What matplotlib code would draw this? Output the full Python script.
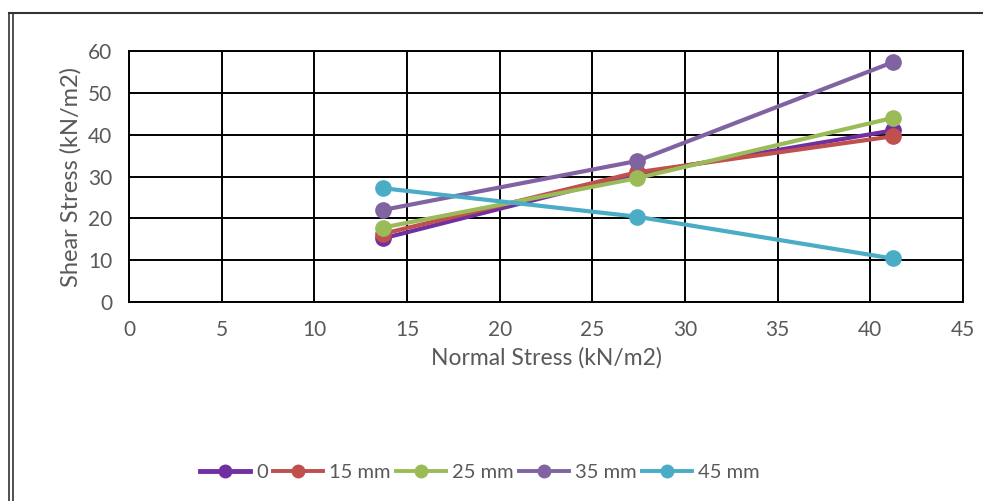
import matplotlib.pyplot as plt
from matplotlib.lines import Line2D

normal_stress = [13.7, 27.4, 41.2]
labels = ['0', '15 mm', '25 mm', '35 mm', '45 mm']
shear_0 = [15.2, 30.6, 41.0]
shear_15 = [16.3, 31.0, 39.6]
shear_25 = [17.8, 29.6, 44.0]
shear_35 = [22.0, 33.7, 57.3]
shear_45 = [27.2, 20.4, 10.4]
colors = ['#7030A0', '#C0504D', '#9BBB59', '#8064A2', '#4BACC6']

x_ticks = list(range(0, 46, 5))
y_ticks = list(range(0, 61, 10))

plt.rcParams['font.family'] = ['Lato', 'DejaVu Sans']

fig = plt.figure(figsize=(9.83, 5.01), dpi=100)
ax = fig.add_axes([0.1312, 0.3972, 0.8485, 0.501])

series = [shear_0, shear_15, shear_25, shear_35, shear_45]
for vals, lab, col in zip(series, labels, colors):
    ax.plot(normal_stress, vals, color=col, lw=3, marker='o', ms=11,
            label=lab, solid_capstyle='round', zorder=3)

ax.set_xlim(0, 45)
ax.set_ylim(0, 60)
ax.set_xticks(x_ticks)
ax.set_yticks(y_ticks)
ax.grid(True, color='black', lw=1.4, zorder=0)
for s in ax.spines.values():
    s.set_color('black')
    s.set_linewidth(1.4)
ax.tick_params(length=0, labelsize=15, colors='#595959')
ax.tick_params(axis='x', pad=13)
ax.tick_params(axis='y', pad=12)
ax.set_xlabel('Normal Stress (kN/m2)', fontsize=16.5, color='#595959', labelpad=5)
ax.set_ylabel('Shear Stress (kN/m2)', fontsize=17, color='#595959', labelpad=5)

handles = [Line2D([], [], color=c, lw=3.5 if i == 0 else 2.8, marker='o', ms=9)
           for i, c in enumerate(colors)]
fig.legend(handles, labels, loc='center', bbox_to_anchor=(0.488, 0.056), ncol=5,
           frameon=False, fontsize=14.5, labelcolor='#595959', handlelength=2.5,
           handletextpad=0.3, columnspacing=0.25)

# outer double border (left and top)
for xx in [0.0095, 0.0135]:
    fig.add_artist(Line2D([xx, xx], [0, 0.975], color='#333333', lw=1.2))
fig.add_artist(Line2D([0.0095, 1.0], [0.975, 0.975], color='#333333', lw=1.5))

fig.savefig('out.png', dpi=100)
